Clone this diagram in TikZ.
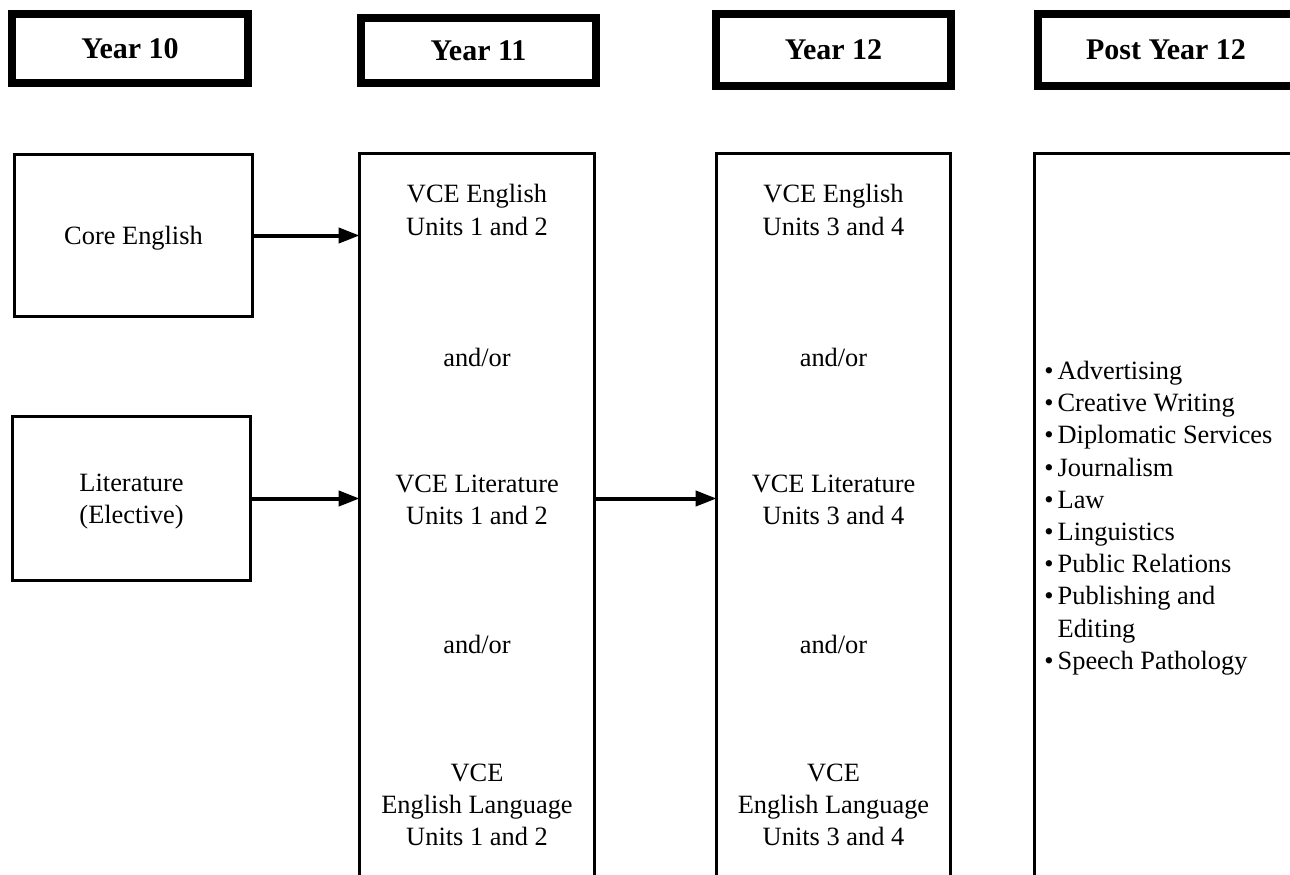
\documentclass[tikz,border=0pt]{standalone}
\usepackage{fontspec}
\setmainfont{Liberation Serif}
\usepackage{tikz}
\usetikzlibrary{arrows.meta, positioning}

\begin{document}
\begin{tikzpicture}[x=0.5pt, y=-0.5pt,
  hdrbox/.style={draw, line width=4pt, inner sep=0pt, font=\fontsize{15}{18}\selectfont\bfseries},
  subjbox/.style={draw, line width=1.65pt, inner sep=0pt, text depth=0pt, align=center, font=\fontsize{13.2}{16.1}\selectfont},
  colbox/.style={draw, line width=1.65pt, inner sep=0pt, outer sep=0pt, minimum height=423pt},
  coltext/.style={align=center, inner sep=0pt, font=\fontsize{13.2}{16.1}\selectfont},
  patharrow/.style={-{Triangle[length=10.5pt, width=7.5pt]}, line width=2pt}]

  % Page frame
  \path[use as bounding box, clip] (0,0) rectangle (1290,874);

  % Header row
  \node[hdrbox, minimum width=118pt, minimum height=34.5pt] (yr10) at (130, 48.5) {Year 10};
  \node[hdrbox, minimum width=117.5pt, minimum height=32.5pt] (yr11) at (478.5, 50.5) {Year 11};
  \node[hdrbox, minimum width=117.5pt, minimum height=36pt] (yr12) at (833.5, 50) {Year 12};
  \node[hdrbox, minimum width=128pt, minimum height=36pt] (post) at (1166, 50) {Post Year 12};

  % Year 10 subjects
  \node[subjbox, minimum width=118.9pt, minimum height=80.9pt] (core) at (133.5, 235.5) {Core English};
  \node[subjbox, minimum width=118.9pt, minimum height=81.9pt] (lit) at (131.5, 498.5) {Literature\\(Elective)};

  % Columns (run past the bottom edge)
  \node[colbox, minimum width=117.4pt] (y11col) at (477, 576.8) {};
  \node[colbox, minimum width=116.9pt] (y12col) at (833.5, 576.8) {};
  \node[colbox, minimum width=132.5pt] (postcol) at (1167.3, 576.8) {};

  % Year 11 units
  \node[coltext] (y11eng) at (477, 210) {VCE English\\Units 1 and 2};
  \node[coltext] (y11or1) at (477, 357) {and/or};
  \node[coltext] (y11lit) at (477, 500) {VCE Literature\\Units 1 and 2};
  \node[coltext] (y11or2) at (477, 644) {and/or};
  \node[coltext] (y11lang) at (477, 805) {VCE\\English Language\\Units 1 and 2};

  % Year 12 units
  \node[coltext] (y12eng) at (833.5, 210) {VCE English\\Units 3 and 4};
  \node[coltext] (y12or1) at (833.5, 357) {and/or};
  \node[coltext] (y12lit) at (833.5, 500) {VCE Literature\\Units 3 and 4};
  \node[coltext] (y12or2) at (833.5, 644) {and/or};
  \node[coltext] (y12lang) at (833.5, 805) {VCE\\English Language\\Units 3 and 4};

  % Careers list
  \node[coltext, align=left, anchor=west] (careers) at (1044, 518) {%
    \textbullet\hspace{2pt}Advertising\\
    \textbullet\hspace{2pt}Creative Writing\\
    \textbullet\hspace{2pt}Diplomatic Services\\
    \textbullet\hspace{2pt}Journalism\\
    \textbullet\hspace{2pt}Law\\
    \textbullet\hspace{2pt}Linguistics\\
    \textbullet\hspace{2pt}Public Relations\\
    \textbullet\hspace{2pt}Publishing and\\
    \hphantom{\textbullet\hspace{2pt}}Editing\\
    \textbullet\hspace{2pt}Speech Pathology};

  % Arrows
  \draw[patharrow] (core.east) -- (core.east -| y11col.west);
  \draw[patharrow] (lit.east) -- (lit.east -| y11col.west);
  \draw[patharrow] (y11col.east |- lit.east) -- (lit.east -| y12col.west);
\end{tikzpicture}
\end{document}
